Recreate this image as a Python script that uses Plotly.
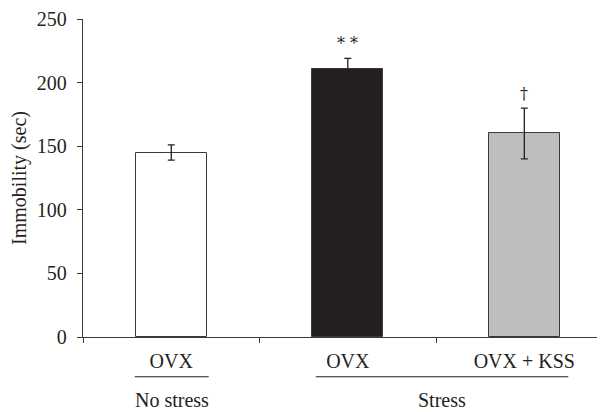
import plotly.graph_objects as go

groups = ["No stress", "Stress", "Stress"]
treatments = ["OVX", "OVX", "OVX + KSS"]
immobility = [145, 211, 160]
sem = [6, 8, 20]
significance = ["", "* *", "†"]
bar_colors = ["#ffffff", "#231f20", "#bcbec0"]
y_ticks = [0, 50, 100, 150, 200, 250]

keys = [f"{g}|{t}" for g, t in zip(groups, treatments)]
FONT = "Liberation Serif"
FS = 20
INK = "#231f20"
AXIS = "#3a3a3a"

fig = go.Figure()
fig.add_trace(go.Bar(
    x=keys, y=immobility, width=0.4,
    marker=dict(color=bar_colors, line=dict(color=AXIS, width=1)),
    error_y=dict(type="data", array=sem, visible=True, color=INK, thickness=1.3, width=3.5),
    showlegend=False,
))

for k, v, e, s in zip(keys, immobility, sem, significance):
    if s:
        fig.add_annotation(x=k, y=v + e, text=s, showarrow=False, yanchor="bottom",
                           yshift=3, font=dict(family="DejaVu Serif", size=16, color=INK))

# group brackets under the category labels
group_names = []
for g in groups:
    if g not in group_names:
        group_names.append(g)
for g in group_names:
    idx = [i for i, gg in enumerate(groups) if gg == g]
    lo, hi = idx[0], idx[-1]
    x0 = lo - 0.207 if lo == hi else lo - 0.181
    x1 = hi + 0.212 if lo == hi else hi + 0.249
    fig.add_shape(type="line", xref="x", yref="paper", x0=x0, x1=x1, y0=-0.125, y1=-0.125,
                  line=dict(color=INK, width=1.2))
    fig.add_annotation(x=(x0 + x1) / 2, y=-0.197, xref="x", yref="paper", text=g,
                       yanchor="middle", showarrow=False,
                       font=dict(family=FONT, size=FS, color=INK))

fig.update_layout(
    width=597, height=404,
    margin=dict(l=75, r=0, t=9, b=75),
    plot_bgcolor="white", paper_bgcolor="white",
    font=dict(family=FONT, size=FS, color=INK),
    bargap=0,
    xaxis=dict(
        type="category", range=[-0.5, 2.457],
        tickmode="array", tickvals=keys, ticktext=treatments,
        tickson="boundaries", ticks="outside", ticklen=5, tickcolor=AXIS, tickwidth=1.3,
        showline=True, linecolor=AXIS, linewidth=1.3, showgrid=False, zeroline=False,
        tickfont=dict(family=FONT, size=FS, color=INK), ticklabelstandoff=6,
    ),
    yaxis=dict(
        range=[0, 250], tickvals=y_ticks, ticks="outside", ticklen=5,
        tickcolor=AXIS, tickwidth=1.3, showline=True, linecolor=AXIS, linewidth=1.3,
        showgrid=False, zeroline=False, ticklabelstandoff=6, ticklabeloverflow="allow",
        title=dict(text="Immobility (sec)", font=dict(family=FONT, size=FS, color=INK), standoff=5),
        tickfont=dict(family=FONT, size=FS, color=INK),
    ),
)

fig.write_html("out.html")
